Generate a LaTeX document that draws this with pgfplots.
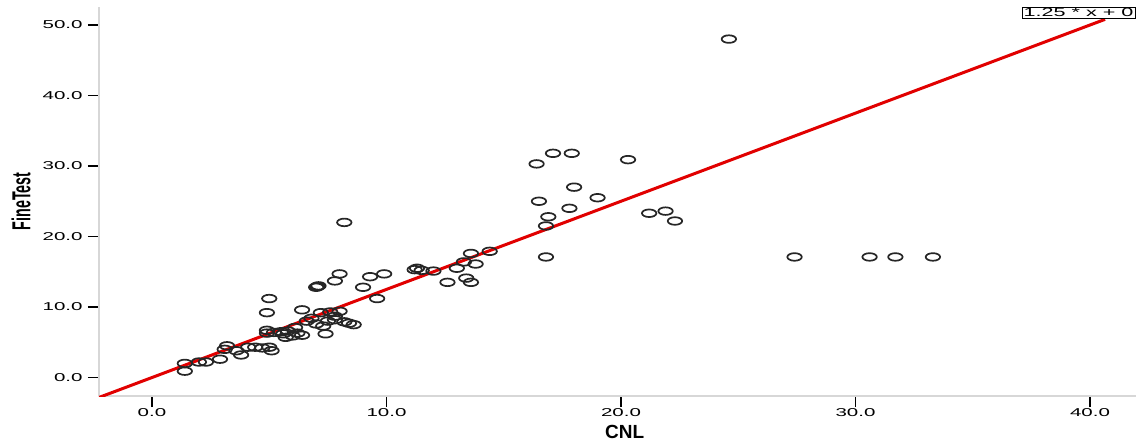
\documentclass[border=0pt]{standalone}
\usepackage{pgfplots}
\pgfplotsset{compat=1.18}
\usepackage{fontspec}
\setmainfont{Liberation Sans}
\definecolor{fitred}{RGB}{225,0,0}
\definecolor{axgray}{RGB}{215,215,215}
\newcommand\sx[1]{\scalebox{1.8}[1]{\fontsize{5.7}{6}\selectfont #1}}
\begin{document}
\begin{tikzpicture}
\path[use as bounding box] (0,0) rectangle (568pt,220pt);
\begin{axis}[
  at={(49.5pt,22pt)}, anchor=south west,
  scale only axis, width=518.5pt, height=194.5pt,
  xmin=-2.26, xmax=41.96, ymin=-2.62, ymax=52.55,
  axis x line=bottom, axis y line=left,
  axis line style={draw=axgray, line width=0.8pt, -},
  xtick={0,10,20,30,40},
  xticklabels={\sx{0.0},\sx{10.0},\sx{20.0},\sx{30.0},\sx{40.0}},
  ytick={0,10,20,30,40,50},
  yticklabels={\sx{0.0},\sx{10.0},\sx{20.0},\sx{30.0},\sx{40.0},\sx{50.0}},
  tick align=outside,
  major tick length=5.5pt,
  tick style={black, line width=0.6pt},
  xticklabel style={inner sep=0pt, yshift=-0.5pt},
  yticklabel style={inner sep=2.5pt},
  xlabel={\fontsize{9.5}{10}\selectfont\bfseries CNL},
  xlabel style={at={(axis description cs:0.507,-0.093)}, anchor=center},
  ylabel={\scalebox{0.55}[1]{\fontsize{13}{13}\selectfont\bfseries FineTest}},
  ylabel style={at={(axis description cs:-0.0752,0.5)}, anchor=center},
  clip=true,
]
\addplot[only marks, mark=o, mark size=1.9pt, mark options={xscale=1.9, draw=black!85, line width=0.85pt}] coordinates {
(24.6,48.0) (16.4,30.3) (17.1,31.8) (17.9,31.8) (20.3,30.9) (18.0,27.0)
(16.5,25.0) (19.0,25.5) (17.8,24.0) (16.9,22.8) (16.8,21.5) (21.2,23.3)
(21.9,23.6) (22.3,22.2) (16.8,17.1) (27.4,17.1) (30.6,17.1) (31.7,17.1)
(33.3,17.1) (8.2,22.0)
(14.4,17.9) (13.6,17.6) (13.8,16.1) (13.3,16.4) (13.0,15.5) (13.4,14.1)
(13.6,13.5) (12.6,13.5) (12.0,15.1) (11.3,15.5) (11.2,15.3) (11.5,15.2)
(9.9,14.7) (9.3,14.3) (8.0,14.7) (7.8,13.7) (9.0,12.8) (9.6,11.2)
(7.1,13.0) (7.0,12.8) (7.05,12.9) (5.0,11.2) (4.9,9.2) (6.4,9.6)
(7.2,9.2) (7.6,9.3) (8.0,9.4) (7.8,8.7) (6.8,8.4) (6.6,8.0)
(7.0,7.6) (7.3,7.3) (7.5,8.0) (7.8,8.2) (8.2,7.9) (8.4,7.7)
(8.6,7.5) (7.4,6.2) (6.1,7.1) (5.8,6.6) (5.6,6.2) (5.7,5.7)
(6.2,6.3) (6.4,6.0) (6.0,5.9) (4.9,6.7) (4.9,6.3) (5.2,6.4)
(5.5,6.5) (5.0,4.3) (5.1,3.8) (4.7,4.2) (4.4,4.3) (4.1,4.3)
(3.6,3.8) (3.8,3.2) (3.2,4.5) (3.1,4.0) (2.9,2.6) (2.3,2.2)
(2.0,2.2) (1.4,2.0) (1.4,0.9)
};
\addplot[fitred, line width=1.5pt] coordinates {(-2.26,-2.825) (40.64,50.8)};
\node[draw=black, line width=0.5pt, fill=white, inner sep=0pt, minimum width=56.5pt, minimum height=5.5pt] at (axis cs:39.51,51.77) {\scalebox{1.8}[1]{\fontsize{6}{6}\selectfont 1.25 * x + 0}};
\end{axis}
\end{tikzpicture}
\end{document}
